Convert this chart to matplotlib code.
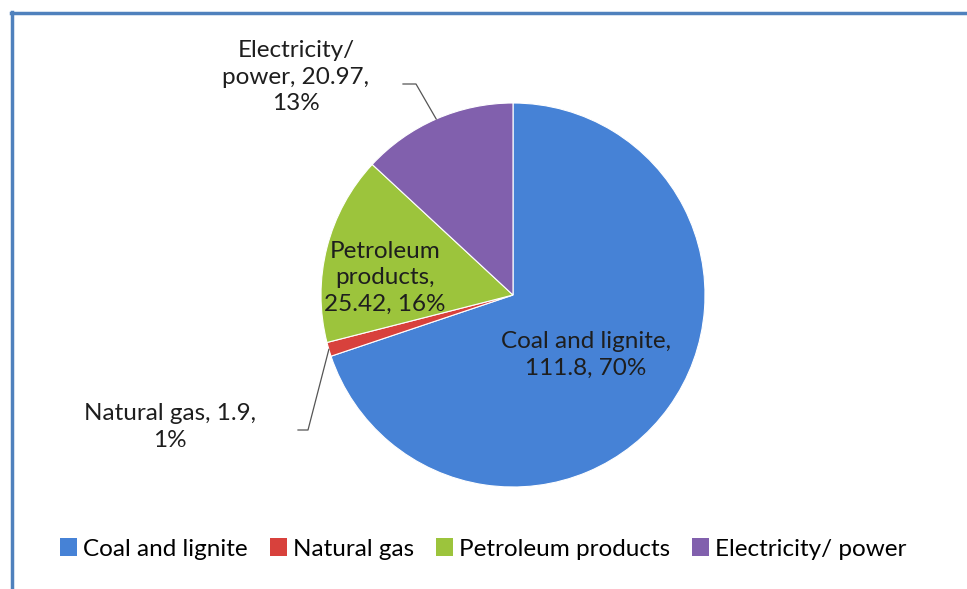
import matplotlib
matplotlib.use("Agg")
from matplotlib import pyplot as plt
from matplotlib.lines import Line2D
from matplotlib.patches import Patch
import numpy as np

categories = ['Coal and lignite', 'Natural gas', 'Petroleum products', 'Electricity/ power']
values = [111.8, 1.9, 25.42, 20.97]
pct_labels = ['70%', '1%', '16%', '13%']
colors = ['#4682d6', '#d8413c', '#9cc43c', '#8160ad']

W, H = 967, 589
plt.rcParams['font.family'] = ['Lato', 'DejaVu Sans']
FS = 17.5

fig = plt.figure(figsize=(W / 100, H / 100), dpi=100)

# pie centre and radius in pixels
cx, cy, r = 513, 295, 192
ax = fig.add_axes([(cx - r) / W, (H - cy - r) / H, 2 * r / W, 2 * r / H])
wedges, _ = ax.pie(values, colors=colors, startangle=90, counterclock=False,
                   radius=1, wedgeprops=dict(edgecolor='white', linewidth=0.8))
ax.set_xlim(-1, 1)
ax.set_ylim(-1, 1)
ax.set_aspect('equal')
ax.axis('off')


def fx(x):
    return x / W


def fy(y):
    return 1 - y / H


def edge_px(i):
    w = wedges[i]
    a = np.deg2rad((w.theta1 + w.theta2) / 2)
    return cx + r * np.cos(a), cy - r * np.sin(a)


tc = '#1e1e1e'
ls = 1.32
# data labels
fig.text(fx(586), fy(355), f'{categories[0]},\n{values[0]}, {pct_labels[0]}',
         ha='center', va='center', fontsize=FS, color=tc, linespacing=ls)
fig.text(fx(385), fy(278), f'Petroleum\nproducts,\n{values[2]}, {pct_labels[2]}',
         ha='center', va='center', fontsize=FS, color=tc, linespacing=ls)
fig.text(fx(296), fy(77), f'Electricity/\npower, {values[3]},\n{pct_labels[3]}',
         ha='center', va='center', fontsize=FS, color=tc, linespacing=ls)
fig.text(fx(170), fy(427), f'Natural gas, {values[1]},\n{pct_labels[1]}',
         ha='center', va='center', fontsize=FS, color=tc, linespacing=ls)

# leader lines
ex, ey = edge_px(3)
fig.add_artist(Line2D([fx(403), fx(416), fx(ex)], [fy(84), fy(84), fy(ey)],
                      color='#555555', lw=0.9))
nx, ny = edge_px(1)
fig.add_artist(Line2D([fx(298), fx(308), fx(nx)], [fy(430), fy(430), fy(ny)],
                      color='#555555', lw=0.9))

# legend
handles = [Patch(facecolor=c, edgecolor='none') for c in colors]
fig.legend(handles, categories, loc='center', bbox_to_anchor=(0.5, fy(549)),
           ncol=4, frameon=False, fontsize=FS, handlelength=0.7, handleheight=0.7,
           handletextpad=0.25, columnspacing=0.9)

# outer frame
fig.add_artist(Line2D([fx(11), 1], [fy(13), fy(13)], color='#4f81bd', lw=2.5))
fig.add_artist(Line2D([fx(12), fx(12)], [fy(12), 0], color='#4f81bd', lw=2.5))

fig.savefig('out.png', dpi=100)
